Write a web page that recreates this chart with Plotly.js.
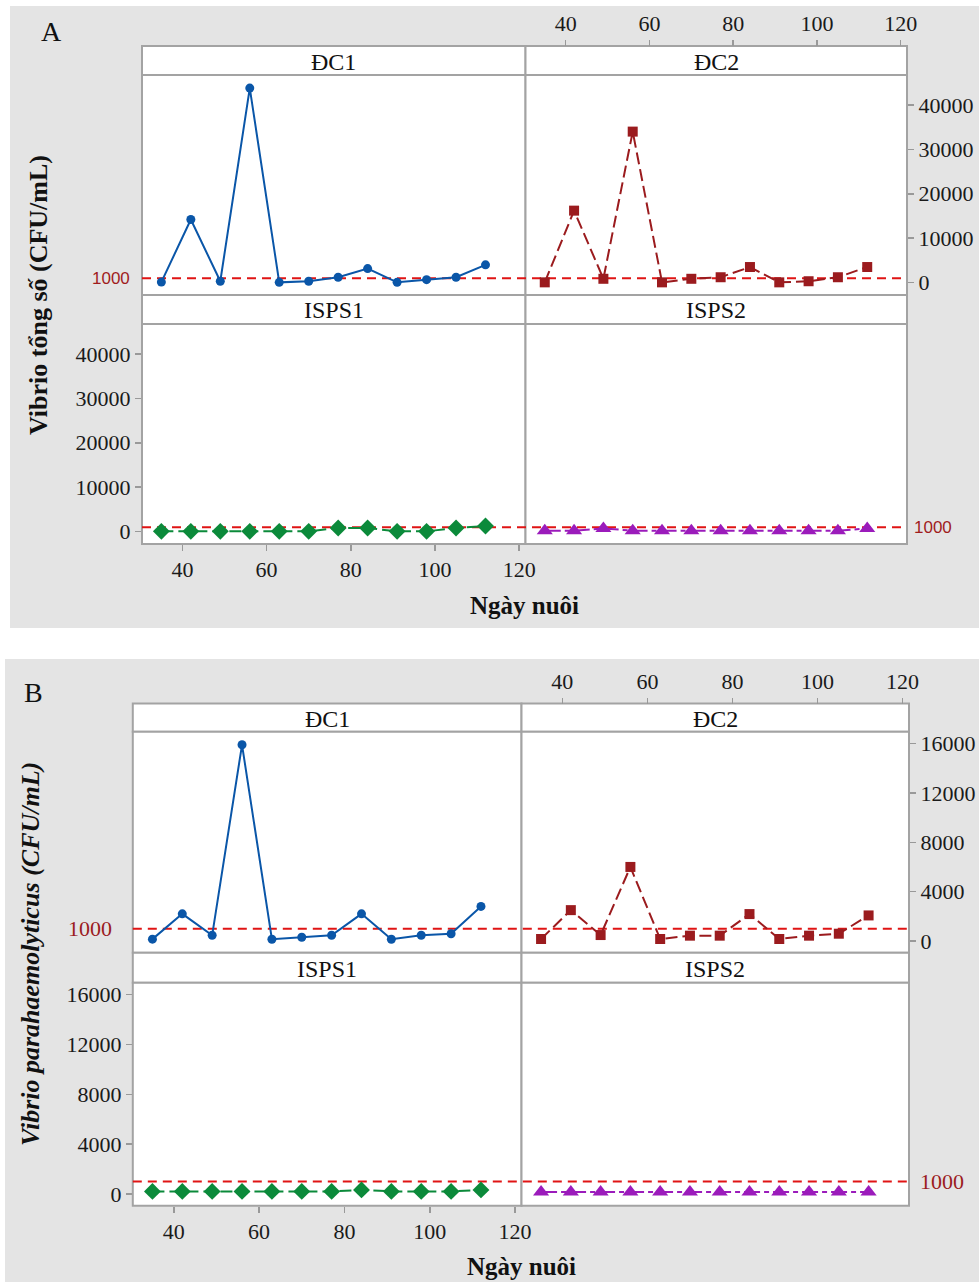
<!DOCTYPE html>
<html>
<head>
<meta charset="utf-8">
<script src="https://cdn.plot.ly/plotly-3.0.1.min.js"></script>
<style>html,body{margin:0;padding:0;background:#fff;}#chart{width:979px;height:1282px;}</style>
</head>
<body>
<div id="chart"></div>
<script>
// ---------- data ----------
const days = [35, 42, 49, 56, 63, 70, 77, 84, 91, 98, 105, 112];
const groups = ["ĐC1", "ĐC2", "ISPS1", "ISPS2"];
const THRESHOLD = 1000;

// A: Vibrio tổng số (CFU/mL)
const A_DC1   = [100, 14200, 300, 43800, 50, 300, 1200, 3150, 50, 650, 1200, 4000];
const A_DC2   = [50, 16200, 850, 34000, 50, 850, 1200, 3500, 50, 300, 1200, 3500];
const A_ISPS1 = [50, 50, 50, 50, 50, 50, 800, 800, 50, 50, 800, 1250];
const A_ISPS2 = [200, 200, 700, 200, 200, 200, 200, 200, 200, 200, 200, 700];

// B: Vibrio parahaemolyticus (CFU/mL)
const B_DC1   = [150, 2200, 460, 15900, 140, 300, 460, 2200, 140, 460, 590, 2800];
const B_DC2   = [160, 2500, 480, 6000, 160, 430, 430, 2180, 160, 430, 590, 2070];
const B_ISPS1 = [200, 200, 200, 200, 200, 200, 200, 320, 200, 200, 200, 320];
const B_ISPS2 = [150, 150, 150, 150, 150, 150, 150, 150, 150, 150, 150, 150];

const xTicks = [40, 60, 80, 100, 120];
const A_yTicks = [0, 10000, 20000, 30000, 40000];
const B_yTicks = [0, 4000, 8000, 12000, 16000];

// ---------- geometry helpers ----------
const W = 979, H = 1282;
const fx = x => x / W;
const fy = y => 1 - y / H;

const SERIF = "Liberation Serif";
const SANS = "Liberation Sans";
const BORDER = "#a3a3a3";
const BG = "#e4e4e4";

const figs = {
  A: {box: [10, 6, 979, 628], xL: [142, 525.5], xR: [525.5, 907],
      sTop: [46, 75], pTop: [75, 295], sBot: [295, 324], pBot: [324, 544],
      yr: [-2800, 46750], yt: A_yTicks,
      data: [A_DC1, A_DC2, A_ISPS1, A_ISPS2]},
  B: {box: [5, 659, 979, 1282], xL: [132.8, 521.5], xR: [521.5, 909],
      sTop: [703.5, 731.7], pTop: [731.7, 952.7], sBot: [952.7, 982.7], pBot: [982.7, 1205.7],
      yr: [-950, 16960], yt: B_yTicks,
      data: [B_DC1, B_DC2, B_ISPS1, B_ISPS2]}
};
const xRange = [30.4, 121.5];

const styles = [
  {color: "#0a56a8", symbol: "circle", size: 9, dash: "solid"},
  {color: "#9b1b1e", symbol: "square", size: 10, dash: "12px,5px"},
  {color: "#0b8a3a", symbol: "diamond", size: 13, dash: "12px,5px"},
  {color: "#9b1bbb", symbol: "triangle-up", size: 14, dash: "16px,4px,5px,4px"}
];

const traces = [];
const layout = {
  width: W, height: H,
  margin: {l: 0, r: 0, t: 0, b: 0},
  paper_bgcolor: "#ffffff",
  plot_bgcolor: "rgba(0,0,0,0)",
  font: {family: SERIF, size: 22, color: "#1a1a1a"},
  showlegend: false,
  shapes: [],
  annotations: []
};

const baseAxis = {showgrid: false, zeroline: false, showline: false, fixedrange: true};

function rect(x0, y0, x1, y1, fill, lineColor) {
  layout.shapes.push({type: "rect", xref: "paper", yref: "paper", layer: "below",
    x0: fx(x0), x1: fx(x1), y0: fy(y1), y1: fy(y0),
    fillcolor: fill, line: {color: lineColor || "rgba(0,0,0,0)", width: lineColor ? 2 : 0}});
}
function ann(text, x, y, opts) {
  layout.annotations.push(Object.assign({text: text, xref: "paper", yref: "paper",
    x: fx(x), y: fy(y), showarrow: false, xanchor: "center", yanchor: "middle"}, opts || {}));
}

let axIdx = 1;
["A", "B"].forEach((key) => {
  const f = figs[key];
  rect(f.box[0], f.box[1], f.box[2], f.box[3], BG);
  [f.xL, f.xR].forEach(xc => {
    rect(xc[0], f.sTop[0], xc[1], f.sTop[1], "#ffffff", BORDER);
    rect(xc[0], f.pTop[0], xc[1], f.pTop[1], "#ffffff", BORDER);
    rect(xc[0], f.sBot[0], xc[1], f.sBot[1], "#ffffff", BORDER);
    rect(xc[0], f.pBot[0], xc[1], f.pBot[1], "#ffffff", BORDER);
  });
  const cells = [
    {xc: f.xL, pc: f.pTop, sc: f.sTop},
    {xc: f.xR, pc: f.pTop, sc: f.sTop},
    {xc: f.xL, pc: f.pBot, sc: f.sBot},
    {xc: f.xR, pc: f.pBot, sc: f.sBot}
  ];
  const first = axIdx;
  cells.forEach((c, i) => {
    const n = axIdx + i;
    const xa = "xaxis" + (n === 1 ? "" : n), ya = "yaxis" + (n === 1 ? "" : n);
    const xr = "x" + (n === 1 ? "" : n), yr = "y" + (n === 1 ? "" : n);
    const xAx = Object.assign({}, baseAxis, {domain: [fx(c.xc[0]), fx(c.xc[1])], range: xRange,
      anchor: yr, showticklabels: false, ticks: ""});
    const yAx = Object.assign({}, baseAxis, {domain: [fy(c.pc[1]), fy(c.pc[0])], range: f.yr,
      anchor: xr, showticklabels: false, ticks: ""});
    const tickSet = () => ({ticks: "outside", ticklen: 6, tickwidth: 1.5, tickcolor: "#999999",
      showticklabels: true, tickfont: {family: SERIF, size: 22, color: "#1a1a1a"}, tickmode: "array"});
    if (i === 1) {
      Object.assign(xAx, tickSet(), {tickvals: xTicks, ticktext: xTicks.map(String), side: "top", anchor: "free", position: fy(c.sc[0])});
      Object.assign(yAx, tickSet(), {tickvals: f.yt, ticktext: f.yt.map(String), side: "right"});
    }
    if (i === 2) {
      Object.assign(xAx, tickSet(), {tickvals: xTicks, ticktext: xTicks.map(String), side: "bottom"});
      Object.assign(yAx, tickSet(), {tickvals: f.yt, ticktext: f.yt.map(String), side: "left"});
    }
    layout[xa] = xAx; layout[ya] = yAx;
    ann(groups[i], (c.xc[0] + c.xc[1]) / 2, (c.sc[0] + c.sc[1]) / 2 + 1,
      {font: {family: SERIF, size: 24, color: "#111"}});
    const s = styles[i];
    traces.push({x: days, y: f.data[i], xaxis: xr, yaxis: yr, type: "scatter", mode: "lines+markers",
      line: {color: s.color, width: 2, dash: s.dash},
      marker: {color: s.color, symbol: s.symbol, size: s.size, line: {width: 0}},
      cliponaxis: false, hoverinfo: "skip"});
  });
  const yTopRef = "y" + (first === 1 ? "" : first);
  const yBotRef = "y" + (first + 2);
  [yTopRef, yBotRef].forEach(yref => {
    layout.shapes.push({type: "line", xref: "paper", yref: yref, layer: "below",
      x0: fx(f.xL[0]), x1: fx(f.xR[1]), y0: THRESHOLD, y1: THRESHOLD,
      line: {color: "#e01414", width: 2, dash: "9px,6px"}});
  });
  axIdx += 4;
});

// 1000 labels
layout.annotations.push({text: String(THRESHOLD), xref: "paper", yref: "y", x: fx(132), y: THRESHOLD,
  xanchor: "right", yanchor: "middle", showarrow: false, font: {family: SANS, size: 17, color: "#a01c1c"}});
layout.annotations.push({text: String(THRESHOLD), xref: "paper", yref: "y3", x: fx(912), y: THRESHOLD,
  xanchor: "left", yanchor: "middle", showarrow: false, font: {family: SANS, size: 17, color: "#a01c1c"}});
layout.annotations.push({text: String(THRESHOLD), xref: "paper", yref: "y5", x: fx(114), y: THRESHOLD,
  xanchor: "right", yanchor: "middle", showarrow: false, font: {family: SERIF, size: 22, color: "#9b1b1e"}});
layout.annotations.push({text: String(THRESHOLD), xref: "paper", yref: "y7", x: fx(918), y: THRESHOLD,
  xanchor: "left", yanchor: "middle", showarrow: false, font: {family: SERIF, size: 22, color: "#9b1b1e"}});

ann("A", 51, 31, {font: {family: SERIF, size: 28, color: "#111"}});
ann("B", 33, 692, {font: {family: SERIF, size: 28, color: "#111"}});

ann("<b>Vibrio tổng số (CFU/mL)</b>", 38, 295, {textangle: -90, font: {family: SERIF, size: 26, color: "#111"}});
ann("<b>Ngày nuôi</b>", 524.5, 605, {font: {family: SERIF, size: 25, color: "#111"}});
ann("<b><i>Vibrio parahaemolyticus</i> <i>(CFU/mL)</i></b>", 30, 954, {textangle: -90, font: {family: SERIF, size: 26, color: "#111"}});
ann("<b>Ngày nuôi</b>", 521, 1266, {font: {family: SERIF, size: 25, color: "#111"}});

Plotly.newPlot("chart", traces, layout, {staticPlot: true, displayModeBar: false});
</script>
</body>
</html>
